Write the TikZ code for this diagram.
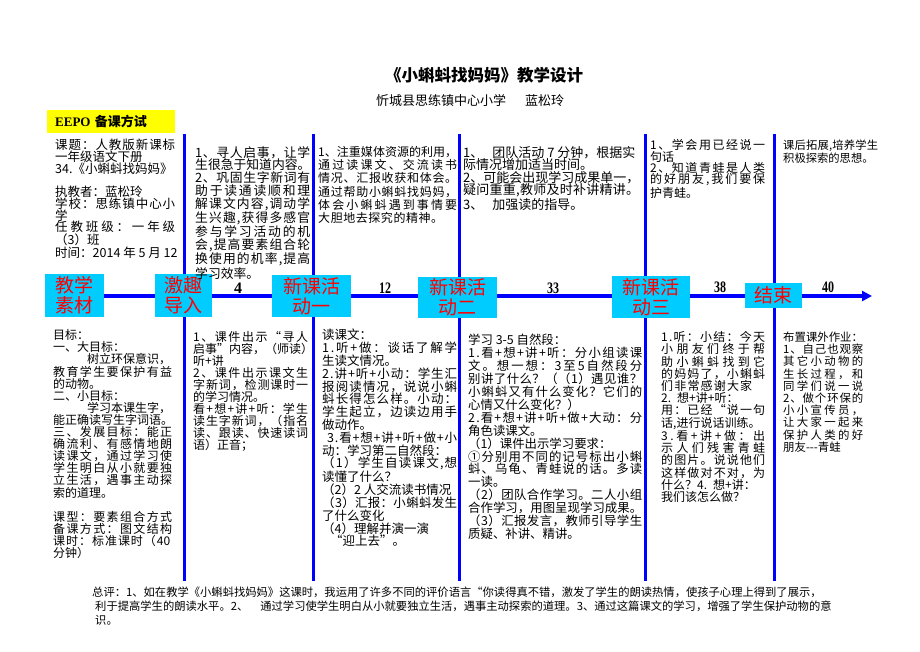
\documentclass[tikz,border=0pt]{standalone}
\usepackage{fontspec}
\setmainfont{Noto Sans CJK SC}
\newfontfamily\tnr{Liberation Serif}
\usepackage{graphicx}
\usetikzlibrary{arrows.meta}
\definecolor{lineblue}{RGB}{0,0,255}
\definecolor{boxcyan}{RGB}{0,204,255}
\definecolor{txtred}{RGB}{255,0,0}
\definecolor{yel}{RGB}{255,255,0}
\makeatletter
\newcommand\J[2]{\hbox to #1pt{\J@first#2\J@end}}
\def\J@end{\J@end}
\def\J@first#1{#1\J@rest}
\def\J@rest#1{\ifx\J@end#1\else\hfil#1\expandafter\J@rest\fi}
\makeatother
\newcommand\fs[2]{\fontsize{#1}{#2}\selectfont}
\newcommand\st{\rule{0pt}{0.88em}}
\begin{document}
\begin{tikzpicture}[x=1pt,y=-1pt,
  vline/.style={draw=lineblue,line width=3pt},
  tline/.style={draw=lineblue,line width=3.5pt,-{Triangle[length=10pt,width=10pt]}},
  stagebox/.style={fill=boxcyan,text=txtred,font=\fs{19}{20},align=center,inner sep=0pt},
  txt/.style={anchor=north west,inner sep=0pt,align=left},
  num/.style={font=\fs{16}{16}\tnr\bfseries,inner sep=0pt}]
\useasboundingbox (0,0) rectangle (920,651);
\fill[white] (0,0) rectangle (920,651);

% title
\node[font=\fs{16.5}{18}\bfseries,inner sep=0pt] (title) at (484,75) {《小蝌蚪找妈妈》教学设计};
\node[font=\fs{13}{14},inner sep=0pt,anchor=west] (sub) at (376,101) {忻城县思练镇中心小学\hspace{19pt}蓝松玲};
\node[fill=yel,anchor=west,inner xsep=8.5pt,inner ysep=0pt,text width=111.5pt,align=left,minimum height=23pt,font=\fs{13}{14}\bfseries] (eepo) at (46.5,121.5) {{\tnr EEPO} 备课方试};

% vertical lines
\foreach \i/\x in {1/184,2/313,3/459,4/645,5/774}{
  \coordinate (v\i t) at (\x,134);
  \coordinate (v\i b) at (\x,581);
  \draw[vline] (v\i t) -- (v\i b);
}
% timeline
\coordinate (ts) at (60,296);
\coordinate (te) at (872,296);
\draw[tline] (ts) -- (te);

% stage boxes
\node[stagebox,minimum width=59pt,minimum height=43pt] (b1) at (74.5,295.5) {教学\\素材};
\node[stagebox,minimum width=57pt,minimum height=43pt] (b2) at (183.5,295.5) {激趣\\导入};
\node[stagebox,minimum width=79pt,minimum height=42pt] (b3) at (311.5,296) {新课活\\动一};
\node[stagebox,minimum width=79pt,minimum height=41pt] (b4) at (457.5,297.5) {新课活\\动二};
\node[stagebox,minimum width=78pt,minimum height=42pt] (b5) at (651,297) {新课活\\动三};
\node[stagebox,minimum width=57pt,minimum height=25pt] (b6) at (773.5,295.5) {结束};

% numbers
\node[num] (n4) at (238,288) {4};
\node[num] (n12) at (385,288) {\scalebox{0.75}[1]{12}};
\node[num] (n33) at (553,288) {\scalebox{0.75}[1]{33}};
\node[num] (n38) at (720,287) {\scalebox{0.75}[1]{38}};
\node[num] (n40) at (828,287) {\scalebox{0.75}[1]{40}};

% top texts
\node[txt,font=\fs{12.5}{11.7}] (t1) at (55,138.75) {\st\J{120}{课题：人教版新课标}\\
一年级语文下册\\
34.《小蝌蚪找妈妈》\\
\mbox{}\\
执教者：蓝松玲\\
\J{120}{学校：思练镇中心小}\\
学\\
\J{120}{任教班级：一年级}\\
（3）班\\
时间：2014 年 5 月 12};

\node[txt,font=\fs{12.8}{12.8}] (t2) at (195,145.6) {\st\J{115}{1、寻人启事，让学}\\
\J{115}{生很急于知道内容。}\\
\J{115}{2、巩固生字新词有}\\
\J{115}{助于读通读顺和理}\\
\J{115}{解课文内容,调动学}\\
\J{115}{生兴趣,获得多感官}\\
\J{115}{参与学习活动的机}\\
\J{115}{会,提高要素组合轮}\\
\J{115}{换使用的机率,提高}\\
学习效率。};

\node[txt,font=\fs{12}{13.1}] (t3) at (318,146) {\st\J{139}{1、注重媒体资源的利用，}\\
\J{139}{通过读课文、交流读书}\\
\J{139}{情况、汇报收获和体会。}\\
\J{139}{通过帮助小蝌蚪找妈妈，}\\
\J{139}{体会小蝌蚪遇到事情要}\\
\J{125}{大胆地去探究的精神。}};

\node[txt,font=\fs{13}{12.6}] (t4) at (463,145.5) {\st 1、\hspace{9pt}团队活动 7 分钟，根据实\\
际情况增加适当时间。\\
\J{176}{2、可能会出现学习成果单一，}\\
\J{176}{疑问重重,教师及时补讲精讲。}\\
3、\hspace{9pt}加强读的指导。};

\node[txt,font=\fs{12}{11.3}] (t5) at (650,139) {\st\J{115}{1、学会用已经说一}\\
句话\\
\J{115}{2、知道青蛙是人类}\\
\J{115}{的好朋友,我们要保}\\
护青蛙。};

\node[txt,font=\fs{11.3}{11.3}] (t6) at (783,139.35) {\st\J{95}{课后拓展,培养学生}\\
积极探索的思想。};

% bottom texts
\node[txt,font=\fs{12}{12.1}] (d1) at (53,329) {\st 目标：\\
一、大目标：\\
\hspace{34pt}树立环保意识，\\
\J{119}{教育学生要保护有益}\\
的动物。\\
二、小目标：\\
\hspace{34pt}学习本课生字，\\
能正确读写生字词语。\\
\J{119}{三、发展目标：能正}\\
\J{119}{确流利、有感情地朗}\\
\J{119}{读课文，通过学习使}\\
\J{119}{学生明白从小就要独}\\
\J{119}{立生活，遇事主动探}\\
索的道理。\\
\mbox{}\\
\J{119}{课型：要素组合方式}\\
\J{119}{备课方式：图文结构}\\
\J{117}{课时：标准课时（{40}}\\
分钟）};

\node[txt,font=\fs{12}{12}] (d2) at (193,331) {\st\J{115}{1、课件出示“寻人}\\
\J{117}{启事”内容，（师读）}\\
听+讲\\
\J{115}{2、课件出示课文生}\\
\J{115}{字新词，检测课时一}\\
的学习情况。\\
\J{115}{看+想+讲+听：学生}\\
\J{115}{读生字新词，（指名}\\
\J{115}{读、跟读、快速读词}\\
语）正音；};

\node[txt,font=\fs{12.5}{12.8}] (d3) at (322,328.75) {\st 读课文：\\
\J{135}{1.听+做：谈话了解学}\\
生读文情况。\\
\J{135}{2.讲+听+小动：学生汇}\\
\J{135}{报阅读情况，说说小蝌}\\
\J{135}{蚪长得怎么样。小动：}\\
\J{135}{学生起立，边读边用手}\\
做动作。\\
\hspace{5pt}\J{130}{3.看+想+讲+听+做+小}\\
动：学习第二自然段：\\
\J{135}{（1）学生自读课文,想}\\
读懂了什么？\\
（2）2 人交流读书情况\\
\J{135}{（3）汇报：小蝌蚪发生}\\
了什么变化\\
（4）理解并演一演\\
\hspace{8pt}“迎上去”。};

\node[txt,font=\fs{12.4}{12.9}] (d4) at (468,333.8) {\st 学习 3-5 自然段：\\
\J{174}{1.看+想+讲+听：分小组读课}\\
\J{174}{文。想一想：3至5自然段分}\\
\J{174}{别讲了什么？（（1）遇见谁？}\\
\J{174}{小蝌蚪又有什么变化？它们的}\\
心情又什么变化？）\\
\J{174}{2.看+想+讲+听+做+大动：分}\\
角色读课文。\\
（1）课件出示学习要求：\\
\J{174}{①分别用不同的记号标出小蝌}\\
\J{174}{蚪、乌龟、青蛙说的话。多读}\\
一读。\\
\J{174}{（2）团队合作学习。二人小组}\\
\J{174}{合作学习，用图呈现学习成果。}\\
\J{174}{（3）汇报发言，教师引导学生}\\
质疑、补讲、精讲。};

\node[txt,font=\fs{12}{12.2}] (d5) at (661,331) {\st\J{104}{1.听：小结：今天}\\
\J{104}{小朋友们终于帮}\\
\J{104}{助小蝌蚪找到它}\\
\J{104}{的妈妈了，小蝌蚪}\\
\J{91}{们非常感谢大家}\\
2.\hspace{6pt}想+讲+听：\\
\J{104}{用：已经“说一句}\\
话,进行说话训练。\\
\J{104}{3.看+讲+做：出}\\
\J{104}{示人们残害青蛙}\\
\J{104}{的图片。说说他们}\\
\J{104}{这样做对不对，为}\\
什么？4.\hspace{6pt}想+讲：\\
我们该怎么做？};

\node[txt,font=\fs{11.4}{12.2}] (d6) at (783,331.3) {\st 布置课外作业：\\
\J{80}{1、自己也观察}\\
\J{80}{其它小动物的}\\
\J{80}{生长过程，和}\\
\J{80}{同学们说一说}\\
\J{80}{2、做个环保的}\\
\J{80}{小小宣传员，}\\
\J{80}{让大家一起来}\\
\J{80}{保护人类的好}\\
朋友-{}-{}-青蛙};

% summary
\node[txt,font=\fs{11.3}{14}] (sum) at (92,586.35) {\st 总评：1、如在教学《小蝌蚪找妈妈》这课时，我运用了许多不同的评价语言“你读得真不错，激发了学生的朗读热情，使孩子心理上得到了展示，\\
\hspace{3pt}利于提高学生的朗读水平。2、\hspace{12pt}通过学习使学生明白从小就要独立生活，遇事主动探索的道理。3、通过这篇课文的学习，增强了学生保护动物的意\\
\hspace{3pt}识。};
\end{tikzpicture}
\end{document}
